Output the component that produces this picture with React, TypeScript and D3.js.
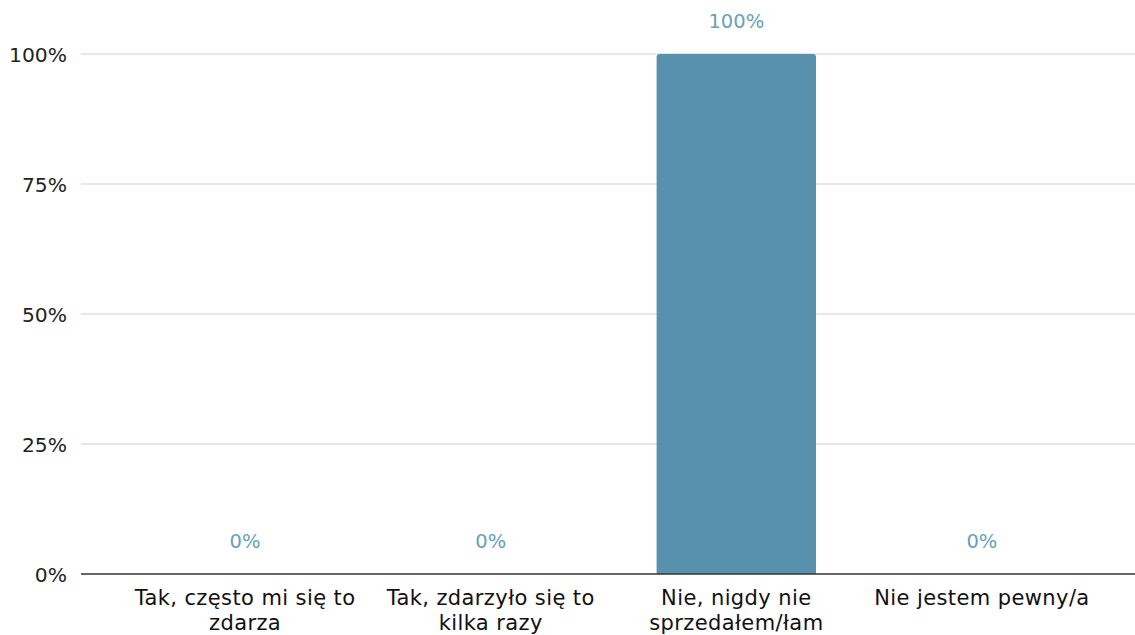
import React from "react";
import * as d3 from "d3";

const categories = [
  "Tak, często mi się to zdarza",
  "Tak, zdarzyło się to kilka razy",
  "Nie, nigdy nie sprzedałem/łam",
  "Nie jestem pewny/a",
];
const values = [0, 0, 100, 0];
const yTicks = [0, 25, 50, 75, 100];

const W = 1135;
const H = 635;
const FONT = "'DejaVu Sans', Verdana, sans-serif";

function wrap(text: string, maxW: number, font: string): string[] {
  const c = document.createElement("canvas").getContext("2d")!;
  c.font = font;
  const words = text.split(" ");
  const lines: string[] = [];
  let cur = "";
  for (const w of words) {
    const t = cur ? cur + " " + w : w;
    if (c.measureText(t).width > maxW && cur) {
      lines.push(cur);
      cur = w;
    } else cur = t;
  }
  if (cur) lines.push(cur);
  return lines;
}

export default function App() {
  const x = d3
    .scaleBand<string>()
    .domain(categories)
    .range([81, 1146])
    .paddingInner(0.351)
    .paddingOuter(0.3435);
  const y = d3.scaleLinear().domain([0, 100]).range([574, 54]);
  const labelFont = `21px ${FONT}`;

  return (
    <svg width={W} height={H} style={{ position: "absolute", left: 0, top: 0, background: "#fff" }}>
      {yTicks.map((t) => (
        <g key={t}>
          {t !== 0 && (
            <line x1={81} x2={W} y1={y(t)} y2={y(t)} stroke="#cfcfcf" strokeWidth={1.2} />
          )}
          <text
            x={67}
            y={y(t) + 7.5}
            textAnchor="end"
            fontFamily={FONT}
            fontSize={20.3}
            fill="#222"
          >
            {t}%
          </text>
        </g>
      ))}
      {categories.map((c, i) => {
        const v = values[i];
        const bx = x(c)!;
        const bw = x.bandwidth();
        const top = y(v);
        const h = y(0) - top;
        const r = 3;
        const path =
          h > 0
            ? `M${bx},${y(0)} L${bx},${top + r} Q${bx},${top} ${bx + r},${top} L${bx + bw - r},${top} Q${bx + bw},${top} ${bx + bw},${top + r} L${bx + bw},${y(0)} Z`
            : "";
        return (
          <g key={c}>
            {path && <path d={path} fill="#5891ad" />}
            <text
              x={bx + bw / 2}
              y={top - 26}
              textAnchor="middle"
              fontFamily={FONT}
              fontSize={19.5}
              fill="#6a9fbd"
            >
              {v}%
            </text>
          </g>
        );
      })}
      <line x1={81} x2={W} y1={y(0)} y2={y(0)} stroke="#333" strokeWidth={1.5} />
      {categories.map((c) => {
        const lines = wrap(c, 225, labelFont);
        const cx = x(c)! + x.bandwidth() / 2;
        return (
          <text
            key={c}
            textAnchor="middle"
            fontFamily={FONT}
            fontSize={21}
            letterSpacing={0.4}
            fill="#111"
          >
            {lines.map((l, j) => (
              <tspan key={j} x={cx} y={605 + j * 25}>
                {l}
              </tspan>
            ))}
          </text>
        );
      })}
    </svg>
  );
}
